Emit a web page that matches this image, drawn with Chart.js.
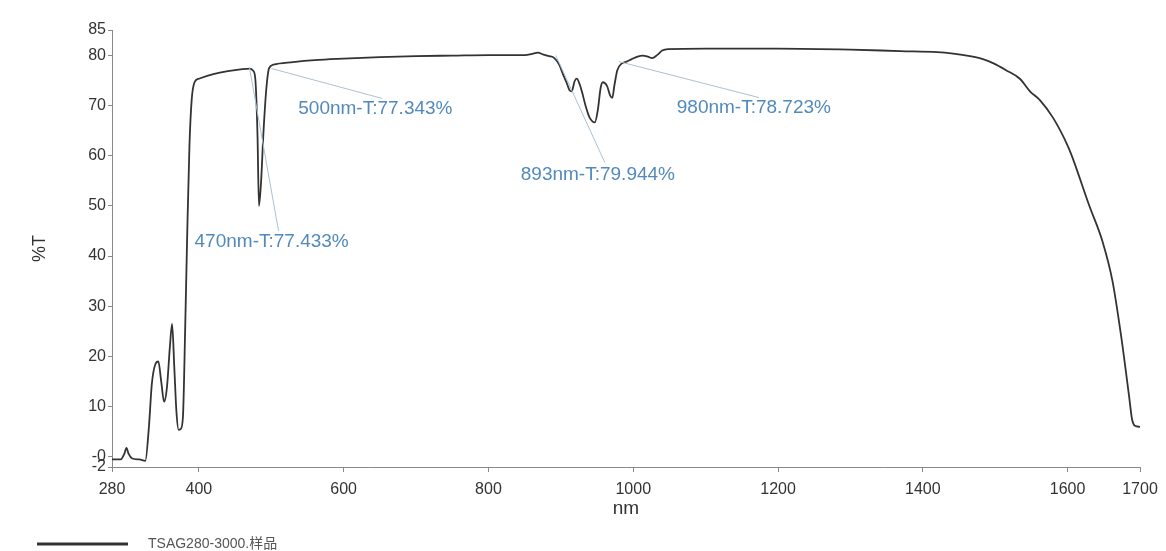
<!DOCTYPE html>
<html>
<head>
<meta charset="utf-8">
<title>TSAG280-3000 transmittance</title>
<script src="https://cdn.jsdelivr.net/npm/chart.js"></script>
<style>
  html, body { margin: 0; padding: 0; background: #fff; }
  #wrap { width: 1166px; height: 551px; }
</style>
</head>
<body>
<div id="wrap"><canvas id="spectrum"></canvas></div>
<script>
// values
const wavelengthNm = [280, 292, 297, 300, 303, 308, 318, 326, 331, 335, 340, 344, 348, 352, 356, 360, 363, 366, 369, 372,
  375, 378, 381, 384, 387, 390, 394, 400, 420, 440, 460, 470, 475, 478, 481, 483, 486, 489, 493, 497,
  503, 530, 560, 600, 650, 700, 750, 800, 850, 862, 868, 876, 884, 891, 898, 904, 908, 912, 915, 919,
  922, 926, 929, 934, 940, 947, 951, 955, 958, 961, 964, 968, 971, 974, 978, 984, 991, 998, 1006, 1013,
  1020, 1026, 1033, 1040, 1048, 1100, 1200, 1300, 1369, 1420, 1442, 1465, 1483, 1497, 1515, 1534, 1548, 1562, 1580, 1600,
  1607, 1630, 1648, 1662, 1674, 1685, 1689, 1693, 1700];
const transmittance = [-0.5, -0.5, 0.6, 1.8, 0.6, -0.3, -0.5, -0.8, 6, 14.5, 18.5, 19, 15, 11, 14, 22, 26.5, 18, 9, 5.4,
  5.6, 8, 25, 45, 62, 71, 74.6, 75.3, 76.2, 76.8, 77.2, 77.3, 76.9, 75.2, 64, 50, 55, 64, 73, 77.4,
  78.1, 78.6, 79.0, 79.3, 79.6, 79.8, 79.9, 80, 80, 80.3, 80.5, 80.1, 79.8, 79.4, 78, 75.8, 74.5, 73, 72.8, 74.8,
  75.3, 74.2, 72.8, 70, 67.5, 66.6, 69, 73.5, 74.6, 74.4, 73.8, 72, 71.5, 74, 77, 78.3, 78.7, 79.2, 79.7, 79.9,
  79.7, 79.4, 80, 80.9, 81.2, 81.3, 81.3, 81.1, 80.8, 80.6, 80.3, 79.8, 79.2, 78.4, 77, 75.3, 72.8, 71, 67.5, 62,
  59.5, 50, 43, 35, 24, 12, 7.5, 6.2, 6.0];

const xTicks = [280, 400, 600, 800, 1000, 1200, 1400, 1600, 1700];
const yTicks = [-2, 0, 10, 20, 30, 40, 50, 60, 70, 80, 85];
const yTickLabels = ['-2', '-0', '10', '20', '30', '40', '50', '60', '70', '80', '85'];

const markNm = [470, 500, 893, 980];
const markT = [77.433, 77.343, 79.944, 78.723];

const seriesName = 'TSAG280-3000.样品';

const FONT = '"Liberation Sans", Arial, "Noto Sans CJK SC", sans-serif';

// where each mark label sits, relative to its point: [lineEndX, lineEndY, textX, textY]
const markOffsets = [
  [29, 163, -55, 174],
  [111, 30, 27, 40],
  [49, 107, -35, 119],
  [140, 36, 58, 46]
];

const markPlugin = {
  id: 'peakMarks',
  afterDatasetsDraw(chart) {
    const ctx = chart.ctx;
    const xs = chart.scales.x, ys = chart.scales.y;
    ctx.save();
    markNm.forEach((nm, i) => {
      const px = xs.getPixelForValue(nm);
      const py = ys.getPixelForValue(markT[i]);
      const o = markOffsets[i];
      ctx.strokeStyle = '#a9c2d4';
      ctx.lineWidth = 1;
      ctx.beginPath();
      ctx.moveTo(px, py);
      ctx.lineTo(px + o[0], py + o[1]);
      ctx.stroke();
      ctx.fillStyle = '#5289bd';
      ctx.font = '19px ' + FONT;
      ctx.textBaseline = 'middle';
      ctx.textAlign = 'left';
      ctx.fillText(nm + 'nm-T:' + markT[i].toFixed(3) + '%', px + o[2], py + o[3]);
    });
    ctx.restore();
  }
};

const legendPlugin = {
  id: 'lineLegend',
  afterDraw(chart) {
    const ctx = chart.ctx;
    const ds = chart.data.datasets[0];
    ctx.save();
    ctx.strokeStyle = ds.borderColor;
    ctx.lineWidth = 3;
    ctx.beginPath();
    ctx.moveTo(37, 544);
    ctx.lineTo(128, 544);
    ctx.stroke();
    ctx.fillStyle = '#555';
    ctx.font = '14px ' + FONT;
    ctx.textBaseline = 'middle';
    ctx.fillText(ds.label, 148, 544);
    ctx.restore();
  }
};

const points = wavelengthNm.map((nm, i) => ({ x: nm, y: transmittance[i] }));

new Chart(document.getElementById('spectrum'), {
  type: 'line',
  data: {
    datasets: [{
      label: seriesName,
      data: points,
      borderColor: '#333',
      borderWidth: 1.8,
      pointRadius: 0,
      cubicInterpolationMode: 'monotone',
      fill: false
    }]
  },
  options: {
    responsive: true,
    maintainAspectRatio: false,
    animation: false,
    layout: { padding: { top: 30, right: 26, bottom: 21, left: 0 } },
    plugins: {
      legend: { display: false },
      tooltip: { enabled: false }
    },
    scales: {
      x: {
        type: 'linear',
        min: 280,
        max: 1700,
        afterBuildTicks(scale) { scale.ticks = xTicks.map(v => ({ value: v })); },
        afterFit(scale) { scale.height = 63; },
        grid: { drawOnChartArea: false, drawTicks: true, tickLength: 5, color: '#888' },
        border: { display: true, color: '#888', width: 1 },
        ticks: {
          color: '#333',
          font: { family: FONT, size: 16 },
          padding: 8,
          maxRotation: 0,
          autoSkip: false,
          callback(value) { return String(value); }
        },
        title: { display: true, text: 'nm', color: '#333', font: { family: FONT, size: 19 }, padding: { top: 0, bottom: 10 } }
      },
      y: {
        min: -2,
        max: 85,
        afterBuildTicks(scale) { scale.ticks = yTicks.map(v => ({ value: v })); },
        afterFit(scale) { scale.width = 112; },
        grid: { drawOnChartArea: false, drawTicks: true, tickLength: 4, color: '#888' },
        border: { display: true, color: '#888', width: 1 },
        ticks: {
          color: '#333',
          font: { family: FONT, size: 16 },
          padding: 2,
          autoSkip: false,
          callback(value) { return yTickLabels[yTicks.indexOf(value)]; }
        },
        title: { display: true, text: '%T', color: '#333', font: { family: FONT, size: 18 }, padding: { top: 29, bottom: 0 } }
      }
    }
  },
  plugins: [markPlugin, legendPlugin]
});
</script>
</body>
</html>
